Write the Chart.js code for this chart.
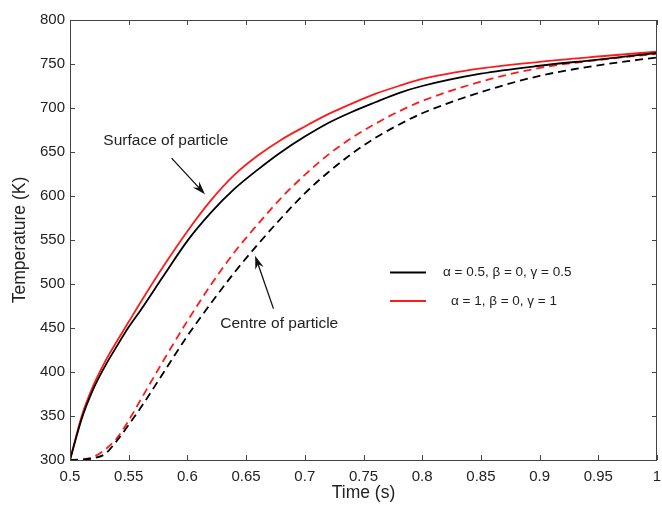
<!DOCTYPE html>
<html>
<head>
<meta charset="utf-8">
<script src="https://cdn.jsdelivr.net/npm/chart.js@4/dist/chart.umd.min.js"></script>
<style>
  html, body { margin: 0; padding: 0; background: #fff; }
  #wrap { width: 662px; height: 505px; }
</style>
</head>
<body>
<div id="wrap"><canvas id="chart" width="662" height="505"></canvas></div>
<script>
// time grid (s)
const times = [0.5, 0.51, 0.52, 0.53, 0.54, 0.55, 0.56, 0.58, 0.6, 0.62, 0.64, 0.66, 0.68,
               0.7, 0.72, 0.74, 0.76, 0.78, 0.8, 0.85, 0.9, 0.95, 1.0];

// surface temperatures (K)
const surfHalf = [300, 347, 381, 407, 429.5, 451, 470, 510, 549, 581, 608, 630, 650,
                  667.5, 683, 695.5, 706.5, 717, 725, 739, 748, 755, 762.5];
const surfOne  = [300, 350, 385, 412, 435, 457, 479, 521, 560, 595, 624, 646, 664,
                  679, 693, 705, 716, 725, 733, 745, 752.5, 758.5, 764];

// centre temperatures (K)
const centHalf = [300, 300.5, 302, 307, 322, 340, 359, 400, 441, 478, 513, 545, 575,
                  603, 627, 648, 666, 681, 694, 718, 736.5, 748.5, 757.5];
const centOne  = [300, 300.5, 303.5, 312, 325, 345, 368, 414, 458, 499, 536, 568, 598,
                  624, 647, 666, 682, 696, 708, 730, 745.5, 754.5, 761.5];

const xTicks = [0.5, 0.55, 0.6, 0.65, 0.7, 0.75, 0.8, 0.85, 0.9, 0.95, 1];
const yTicks = [300, 350, 400, 450, 500, 550, 600, 650, 700, 750, 800];

const legendLabels = ["\u03b1 = 0.5, \u03b2 = 0, \u03b3 = 0.5", "\u03b1 = 1, \u03b2 = 0, \u03b3 = 1"];
const legendColors = ["#000000", "#ff1a1a"];

// annotations, data units
const notes = [
  { text: "Surface of particle", at: [0.5816, 663], tail: [0.5865, 643], head: [0.615, 602] },
  { text: "Centre of particle",  at: [0.6782, 455], tail: [0.6733, 472], head: [0.6577, 532] }
];

const FONT = "'Liberation Sans', Arial, sans-serif";

function pts(ys) { return times.map((t, i) => ({ x: t, y: ys[i] })); }

function ds(label, ys, color, dashed) {
  return {
    label, data: pts(ys), borderColor: color, borderWidth: 1.8,
    borderDash: dashed ? [8, 5] : [], pointRadius: 0,
    cubicInterpolationMode: "monotone", fill: false
  };
}

const frame = {
  id: "frame",
  afterDraw(c) {
    const ctx = c.ctx, a = c.chartArea, xs = c.scales.x, ys = c.scales.y;
    ctx.save();
    ctx.strokeStyle = "#444";
    ctx.lineWidth = 1;
    ctx.strokeRect(a.left + 0.5, a.top + 0.5, a.right - a.left - 1, a.bottom - a.top);
    ctx.beginPath();
    xTicks.forEach(v => {
      const px = Math.round(xs.getPixelForValue(v)) + 0.5;
      ctx.moveTo(px, a.bottom); ctx.lineTo(px, a.bottom - 5);
      ctx.moveTo(px, a.top); ctx.lineTo(px, a.top + 5);
    });
    yTicks.forEach(v => {
      const py = Math.round(ys.getPixelForValue(v)) + 0.5;
      ctx.moveTo(a.left, py); ctx.lineTo(a.left + 5, py);
      ctx.moveTo(a.right, py); ctx.lineTo(a.right - 5, py);
    });
    ctx.stroke();

    // notes + arrows
    ctx.font = "15.5px " + FONT;
    ctx.textAlign = "center";
    ctx.textBaseline = "middle";
    notes.forEach(n => {
      ctx.fillStyle = "#222";
      ctx.fillText(n.text, xs.getPixelForValue(n.at[0]), ys.getPixelForValue(n.at[1]));
      const x1 = xs.getPixelForValue(n.tail[0]), y1 = ys.getPixelForValue(n.tail[1]);
      const x2 = xs.getPixelForValue(n.head[0]), y2 = ys.getPixelForValue(n.head[1]);
      const ang = Math.atan2(y2 - y1, x2 - x1);
      ctx.strokeStyle = "#111";
      ctx.lineWidth = 1.3;
      ctx.beginPath(); ctx.moveTo(x1, y1); ctx.lineTo(x2 - 6 * Math.cos(ang), y2 - 6 * Math.sin(ang)); ctx.stroke();
      ctx.fillStyle = "#111";
      ctx.beginPath();
      ctx.moveTo(x2, y2);
      ctx.lineTo(x2 - 14 * Math.cos(ang - 0.32), y2 - 14 * Math.sin(ang - 0.32));
      ctx.lineTo(x2 - 9 * Math.cos(ang), y2 - 9 * Math.sin(ang));
      ctx.lineTo(x2 - 14 * Math.cos(ang + 0.32), y2 - 14 * Math.sin(ang + 0.32));
      ctx.closePath(); ctx.fill();
    });

    // legend
    ctx.textAlign = "left";
    ctx.font = "13.5px " + FONT;
    legendLabels.forEach((lab, i) => {
      const y = a.top + 252.5 + i * 28.5;
      ctx.strokeStyle = legendColors[i];
      ctx.lineWidth = 1.8;
      ctx.beginPath(); ctx.moveTo(390, y); ctx.lineTo(426, y); ctx.stroke();
      ctx.fillStyle = "#222";
      ctx.fillText(lab, i === 0 ? 443 : 451, y);
    });
    ctx.restore();
  }
};

new Chart(document.getElementById("chart"), {
  type: "line",
  data: {
    datasets: [
      ds("surface a=0.5", surfHalf, "#000000", false),
      ds("surface a=1", surfOne, "#ff1a1a", false),
      ds("centre a=0.5", centHalf, "#000000", true),
      ds("centre a=1", centOne, "#ff1a1a", true)
    ]
  },
  options: {
    responsive: false,
    animation: false,
    layout: { padding: { top: 20, right: 5, left: 0, bottom: 0 } },
    plugins: { legend: { display: false }, tooltip: { enabled: false } },
    scales: {
      x: {
        type: "linear", min: 0.5, max: 1,
        afterBuildTicks: s => { s.ticks = xTicks.map(v => ({ value: v })); },
        afterFit: s => { s.height = 45; s.paddingLeft = 0; s.paddingRight = 0; },
        grid: { display: false, drawTicks: false },
        border: { display: false },
        ticks: { color: "#222", font: { family: FONT, size: 15 }, padding: 8,
                 maxRotation: 0, callback: v => String(+v.toFixed(2)) },
        title: { display: true, text: "Time (s)", color: "#222",
                 font: { family: FONT, size: 17.5 }, padding: { top: 0, bottom: 1 } }
      },
      y: {
        min: 300, max: 800,
        afterBuildTicks: s => { s.ticks = yTicks.map(v => ({ value: v })); },
        afterFit: s => { s.width = 70; },
        grid: { display: false, drawTicks: false },
        border: { display: false },
        ticks: { color: "#222", font: { family: FONT, size: 15 }, padding: 5 },
        title: { display: true, text: "Temperature (K)", color: "#222",
                 font: { family: FONT, size: 17.5 }, padding: { top: 10, bottom: 4 } }
      }
    }
  },
  plugins: [frame]
});
</script>
</body>
</html>
